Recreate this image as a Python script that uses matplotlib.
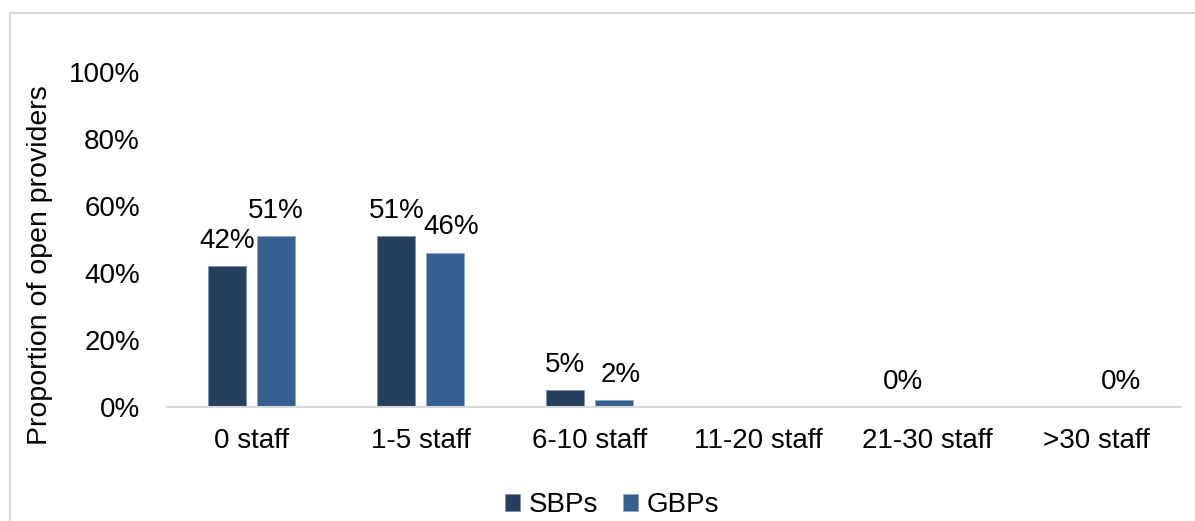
import numpy as np
import matplotlib.pyplot as plt
from matplotlib.lines import Line2D

categories = ["0 staff", "1-5 staff", "6-10 staff", "11-20 staff", "21-30 staff", ">30 staff"]
sbps = [42, 51, 5, np.nan, 0, np.nan]
gbps = [51, 46, 2, np.nan, np.nan, 0]
yticks = [0, 20, 40, 60, 80, 100]

plt.rcParams['font.family'] = ['Liberation Sans', 'DejaVu Sans']
FS = 20

W, H = 1195, 521
fig = plt.figure(figsize=(W / 100, H / 100), dpi=100)
ax = fig.add_axes([167 / W, 1 - 407 / H, (1181 - 167) / W, (407 - 72) / H])

c_s = "#273F5E"
c_g = "#36608F"
x = np.arange(len(categories))
bw = 0.225
off = 0.285 / 2
ax.bar(x - off, np.nan_to_num(sbps), bw, color=c_s, edgecolor="#7F93AE", linewidth=0.6, label="SBPs")
ax.bar(x + off, np.nan_to_num(gbps), bw, color=c_g, edgecolor="#8FA7C8", linewidth=0.6, label="GBPs")

for xi, v in zip(x, sbps):
    if not np.isnan(v):
        ax.text(xi - off, v + 5.5, f"{v:.0f}%", ha="center", va="baseline", fontsize=FS)
for i, (xi, v) in enumerate(zip(x, gbps)):
    if not np.isnan(v):
        # Excel nudges the label right when it would collide with its neighbour
        nudge = 0.04 if (not np.isnan(sbps[i]) and sbps[i] > v and sbps[i] - v < 8) else 0.0
        ax.text(xi + off + nudge, v + 5.5, f"{v:.0f}%", ha="center", va="baseline", fontsize=FS)

ax.set_xlim(-0.5, len(categories) - 0.5)
ax.set_ylim(0, 100)
ax.set_yticks(yticks)
ax.set_yticklabels([f"{t}%" for t in yticks], fontsize=FS)
ax.set_xticks(x)
ax.set_xticklabels(categories, fontsize=FS)
ax.tick_params(axis="both", length=0)
ax.tick_params(axis="y", pad=19.5)
ax.tick_params(axis="x", pad=15)
for s in ["top", "right", "left"]:
    ax.spines[s].set_visible(False)
ax.spines["bottom"].set_color("#D9D9D9")
ax.spines["bottom"].set_linewidth(1.5)

fig.text(40 / W, 1 - 265 / H, "Proportion of open providers", rotation=90,
         ha="center", va="center", fontsize=20.5)

ax.legend(loc="center", bbox_to_anchor=((612 - 167) / (1181 - 167), (407 - 505) / (407 - 72)),
          ncol=2, frameon=False, fontsize=FS, handlelength=0.55, handleheight=0.55,
          handletextpad=0.3, columnspacing=0.9)

# figure border (top and left, cropped)
fig.add_artist(Line2D([9.5 / W, 1.0], [1 - 13 / H, 1 - 13 / H], color="#D9D9D9", lw=1.5, transform=fig.transFigure))
fig.add_artist(Line2D([9.5 / W, 9.5 / W], [0, 1 - 13 / H], color="#D9D9D9", lw=1.5, transform=fig.transFigure))

fig.savefig("out.png", dpi=100)
